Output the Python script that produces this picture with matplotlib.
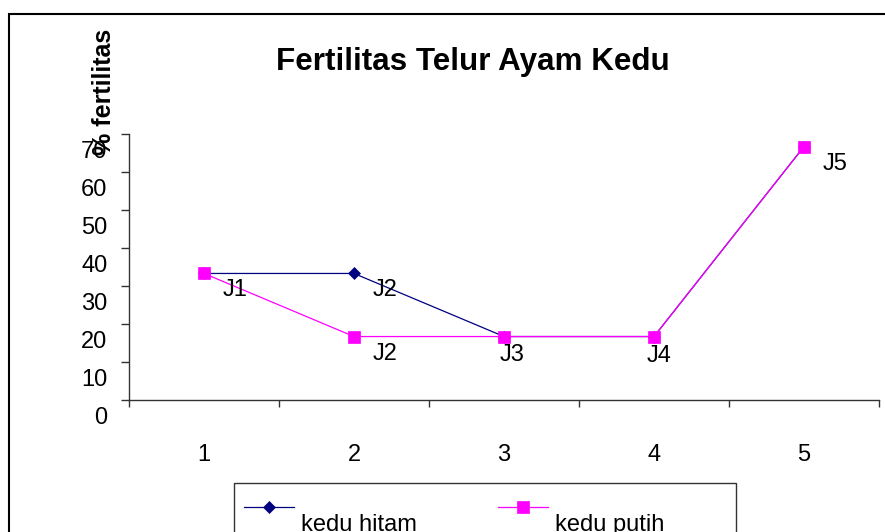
import matplotlib.pyplot as plt
import matplotlib.transforms as mtransforms
from matplotlib.lines import Line2D
from matplotlib.patches import Rectangle

plt.rcParams['font.family'] = ['Liberation Sans', 'DejaVu Sans']

# data
kategori = [1, 2, 3, 4, 5]
kedu_hitam = [33.3, 33.3, 16.7, 16.7, 66.7]
kedu_putih = [33.3, 16.7, 16.7, 16.7, 66.7]
label_hitam = ['J1', 'J2', '', '', 'J5']
label_putih = ['', 'J2', 'J3', 'J4', '']
yticks = [0, 10, 20, 30, 40, 50, 60, 70]

navy = '#000080'
magenta = '#FF00FF'

W, H = 885, 532
fig = plt.figure(figsize=(W / 100, H / 100), dpi=100)
ax = fig.add_axes([129 / W, 1 - 400 / H, 750 / W, 266 / H])

ax.plot(kategori, kedu_hitam, color=navy, lw=0.9, marker='D', ms=6.5,
        mfc=navy, mec=navy, mew=0.5)
ax.plot(kategori, kedu_putih, color=magenta, lw=0.9, marker='s', ms=8,
        mfc=magenta, mec=magenta, mew=0.5)

# posisi label data (offset dalam piksel)
off_default = (19, -17)
off_khusus = {'J3': (-4, -18), 'J4': (-7, -19)}
for seri, labs in [(kedu_hitam, label_hitam), (kedu_putih, label_putih)]:
    for x, y, t in zip(kategori, seri, labs):
        if not t:
            continue
        dx, dy = off_khusus.get(t, off_default)
        ax.annotate(t, (x, y), xytext=(dx * 0.72, dy * 0.72),
                    textcoords='offset points', ha='left', va='center',
                    fontsize=17)

ax.set_xlim(0.5, 5.5)
ax.set_ylim(0, 70)
ax.set_yticks(yticks)
ax.set_xticks(kategori)
ax.set_xticks([k + 0.5 for k in [0] + kategori], minor=True)

for s in ['top', 'right']:
    ax.spines[s].set_visible(False)
for s in ['left', 'bottom']:
    ax.spines[s].set_color('#333333')
    ax.spines[s].set_linewidth(1.0)

ax.tick_params(axis='y', direction='out', length=6, width=1, color='#333333',
               pad=9.5, labelsize=17)
ax.tick_params(axis='x', which='major', length=0, pad=32, labelsize=17)
ax.tick_params(axis='x', which='minor', direction='out', length=5, width=1,
               color='#333333')

geser = mtransforms.ScaledTranslation(0, -15 / 100, fig.dpi_scale_trans)
for lab in ax.get_yticklabels():
    lab.set_transform(lab.get_transform() + geser)

fig.text(473 / W, 1 - 62 / H, 'Fertilitas Telur Ayam Kedu', ha='center',
         va='center', fontsize=22.6, fontweight='bold')
fig.text(104 / W, 1 - 92 / H, '% fertilitas', rotation=90, ha='center',
         va='center', fontsize=18, fontweight='bold')

# bingkai chart
fig.patches.append(Rectangle((9 / W, -0.1), 2, 1 - 14 / H + 0.1,
                             transform=fig.transFigure, fill=False,
                             edgecolor='black', lw=1.5))

# legenda
fig.patches.append(Rectangle((234 / W, -0.1), (736 - 234) / W,
                             1 - 483 / H + 0.1, transform=fig.transFigure,
                             fill=False, edgecolor='#333333', lw=1))
for x0, warna, mk, ms, nama in [(244, navy, 'D', 6.5, 'kedu hitam'),
                                (498, magenta, 's', 8, 'kedu putih')]:
    fig.add_artist(Line2D([x0 / W, (x0 + 50) / W], [1 - 507 / H] * 2,
                          color=warna, lw=0.9, transform=fig.transFigure))
    fig.add_artist(Line2D([(x0 + 25) / W], [1 - 507 / H], color=warna,
                          marker=mk, ms=ms, mew=0.5,
                          transform=fig.transFigure))
    fig.text((x0 + 57) / W, 1 - 531 / H, nama, ha='left', va='baseline',
             fontsize=17)

fig.savefig('out.png', dpi=100)
